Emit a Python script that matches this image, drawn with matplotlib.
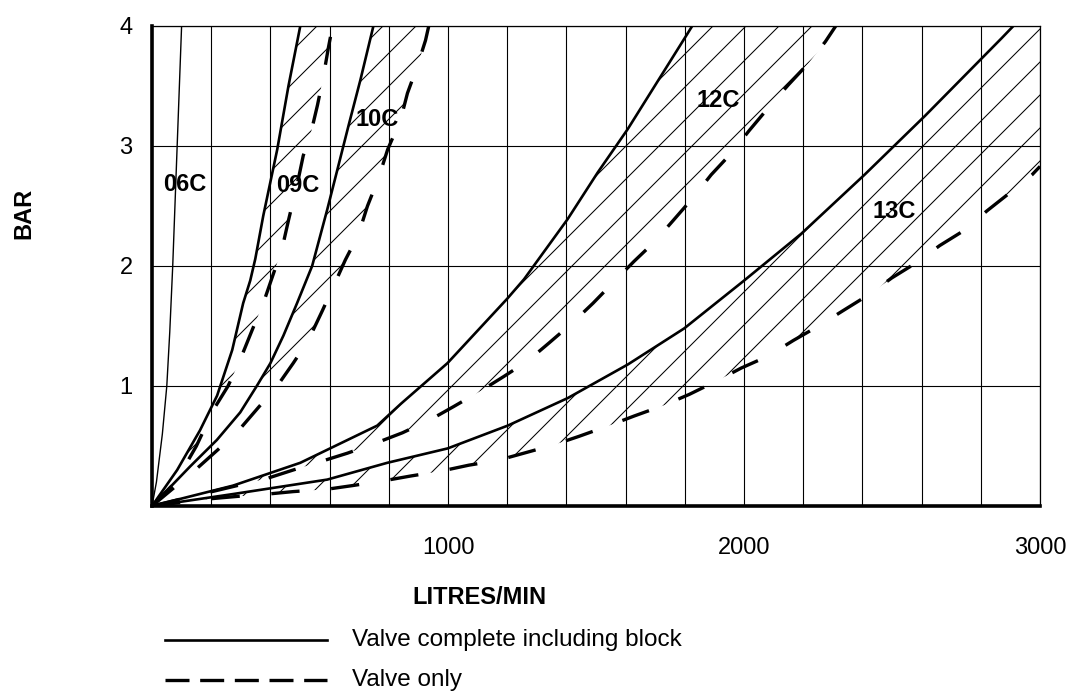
import numpy as np
import matplotlib
matplotlib.use("Agg")
import matplotlib.pyplot as plt
from matplotlib.collections import LineCollection
from matplotlib.patches import Polygon
from matplotlib.lines import Line2D

plt.rcParams['font.family'] = ['Liberation Sans', 'DejaVu Sans']

# ---------------- data ----------------
x_grid = list(range(0, 3001, 200))
x_labelled = [1000, 2000, 3000]
y_grid = [0, 1, 2, 3, 4]
y_labels = ['', '1', '2', '3', '4']
x_max, y_max = 3000, 4

valves = ['06C', '09C', '10C', '12C', '13C']

# solid: valve complete including block
q06_solid = [0, 15, 25, 35, 50, 60, 70, 85, 100]
p06_solid = [0, 0.2, 0.4, 0.6, 1.0, 1.45, 2.0, 3.0, 4.0]

q09_solid = [0, 85, 162, 220, 271, 308, 332, 349, 376, 423, 461, 501]
p09_solid = [0, 0.3, 0.63, 0.92, 1.3, 1.69, 1.88, 2.06, 2.42, 2.97, 3.5, 4.0]

q10_solid = [0, 129, 219, 298, 354, 400, 444, 490, 541, 592, 626, 664, 704, 748]
p10_solid = [0, 0.33, 0.55, 0.78, 1.0, 1.19, 1.42, 1.69, 2.0, 2.47, 2.8, 3.17, 3.55, 4.0]

q12_solid = [0, 274, 501, 761, 840, 998, 1201, 1257, 1404, 1506, 1607, 1810, 1825]
p12_solid = [0, 0.17, 0.36, 0.67, 0.85, 1.19, 1.73, 1.89, 2.39, 2.78, 3.14, 3.94, 4.0]

q13_solid = [0, 275, 592, 795, 999, 1202, 1405, 1608, 1798, 2001, 2194, 2407, 2611, 2871, 2910]
p13_solid = [0, 0.1, 0.22, 0.36, 0.48, 0.67, 0.9, 1.18, 1.48, 1.88, 2.27, 2.76, 3.25, 3.9, 4.0]

# dashed: valve only
q09_dash = [0, 80, 150, 207, 257, 298, 339, 376, 415, 439, 461, 494, 511, 535, 559, 579, 596, 610]
p09_dash = [0, 0.2, 0.5, 0.8, 1.0, 1.22, 1.47, 1.69, 1.97, 2.14, 2.38, 2.72, 2.92, 3.09, 3.34, 3.58, 3.82, 4.0]

q10_dash = [0, 146, 223, 291, 359, 423, 477, 528, 576, 613, 653, 697, 728, 765, 796, 840, 863, 897, 924, 935]
p10_dash = [0, 0.3, 0.47, 0.625, 0.82, 1.0, 1.19, 1.38, 1.63, 1.83, 2.05, 2.26, 2.5, 2.73, 2.97, 3.22, 3.44, 3.67, 3.88, 4.0]

q12_dash = [0, 389, 477, 576, 660, 762, 846, 941, 1020, 1111, 1189, 1270, 1342, 1422, 1490,
            1561, 1629, 1697, 1761, 1828, 1889, 1957, 2018, 2086, 2150, 2218, 2275, 2310]
p12_dash = [0, 0.23, 0.3, 0.375, 0.44, 0.53, 0.61, 0.72, 0.83, 0.96, 1.08, 1.21, 1.36, 1.53, 1.69,
            1.87, 2.04, 2.2, 2.38, 2.57, 2.76, 2.94, 3.13, 3.33, 3.51, 3.69, 3.87, 4.0]

q13_dash = [0, 196, 288, 393, 477, 592, 677, 783, 874, 975, 1070, 1168, 1256, 1358, 1442, 1544,
            1629, 1730, 1815, 1906, 1991, 2082, 2167, 2252, 2336, 2421, 2499, 2584, 2661, 2746,
            2821, 2898, 2973, 3000]
p13_dash = [0, 0.06, 0.08, 0.1, 0.12, 0.14, 0.17, 0.21, 0.25, 0.29, 0.34, 0.38, 0.44, 0.51, 0.58, 0.67,
            0.75, 0.84, 0.93, 1.04, 1.15, 1.25, 1.38, 1.5, 1.63, 1.76, 1.9, 2.03, 2.17, 2.3,
            2.46, 2.61, 2.76, 2.83]

# curve label positions (Q, P)
label_q = [112, 494, 762, 1913, 2506]
label_p = [2.68, 2.675, 3.225, 3.38, 2.45]

legend_labels = ['Valve complete including block', 'Valve only']
x_title = 'LITRES/MIN'
y_title = 'BAR'

# ---------------- figure ----------------
FW, FH = 1074, 700
fig = plt.figure(figsize=(FW / 100, FH / 100), dpi=100)
left_px, right_px, top_px, bottom_px = 152, 1040, 26, 506
ax = fig.add_axes([left_px / FW, 1 - bottom_px / FH,
                   (right_px - left_px) / FW, (bottom_px - top_px) / FH])
ax.set_xlim(0, x_max)
ax.set_ylim(0, y_max)

ax.set_xticks(x_grid)
ax.set_xticklabels([str(v) if v in x_labelled else '' for v in x_grid])
ax.set_yticks(y_grid)
ax.set_yticklabels(y_labels)
ax.tick_params(axis='both', length=0, labelsize=17, colors='black')
ax.tick_params(axis='x', pad=22)
ax.tick_params(axis='y', pad=14)
ax.grid(True, color='black', linewidth=0.8)
ax.set_axisbelow(True)
for side, lw in [('left', 2.6), ('bottom', 2.6), ('top', 0.9), ('right', 0.9)]:
    ax.spines[side].set_linewidth(lw)
    ax.spines[side].set_color('black')

solids = [(q06_solid, p06_solid), (q09_solid, p09_solid), (q10_solid, p10_solid),
          (q12_solid, p12_solid), (q13_solid, p13_solid)]
dashes = [None, (q09_dash, p09_dash), (q10_dash, p10_dash),
          (q12_dash, p12_dash), (q13_dash, p13_dash)]

# hatch between solid and dashed curves
W = (right_px - left_px)
H = (bottom_px - top_px)
spacing = 33.0
du = spacing / W
slope_u = H / W
starts = np.arange(-slope_u, 1.0 + du, du)
for (qs, ps), d in zip(solids, dashes):
    if d is None:
        continue
    qd, pd = d
    verts = list(zip(qs, ps))
    if ps[-1] >= y_max and pd[-1] < y_max:
        verts.append((x_max, y_max))
    verts += list(zip(qd, pd))[::-1]
    poly = Polygon(verts, closed=True, transform=ax.transData,
                   facecolor='none', edgecolor='none')
    ax.add_patch(poly)
    segs = [[(u, 0), (u + slope_u, 1)] for u in starts]
    lc = LineCollection(segs, colors='black', linewidths=0.75, transform=ax.transAxes)
    lc.set_clip_path(poly)
    ax.add_collection(lc)

for i, (qs, ps) in enumerate(solids):
    ax.plot(qs, ps, color='black', lw=(1.0 if i == 0 else 1.9), solid_capstyle='butt', zorder=4)
for d in dashes:
    if d is None:
        continue
    ax.plot(d[0], d[1], color='black', lw=2.4, linestyle=(0, (8.5, 9.5)),
            dash_capstyle='butt', zorder=4)

for name, lq, lp in zip(valves, label_q, label_p):
    ax.text(lq, lp, name, ha='center', va='center', fontsize=17, fontweight='bold', zorder=5)

# axis titles
fig.text(479 / FW, 1 - 598 / FH, x_title, ha='center', va='center',
         fontsize=17, fontweight='bold')
fig.text(24 / FW, 1 - 213 / FH, y_title, ha='center', va='center',
         fontsize=17, fontweight='bold', rotation=90)

# legend drawn below
leg_y = [640, 680]
leg_styles = ['-', (0, (7.2, 3.2))]
leg_lw = [1.9, 2.4]
for y, lab, ls, lw in zip(leg_y, legend_labels, leg_styles, leg_lw):
    fig.add_artist(Line2D([165 / FW, 327 / FW], [1 - y / FH] * 2, transform=fig.transFigure,
                          color='black', lw=lw, linestyle=ls, dash_capstyle='butt'))
    fig.text(352 / FW, 1 - y / FH, lab, ha='left', va='center', fontsize=17.5)

fig.savefig('out.png', dpi=100, facecolor='white')
